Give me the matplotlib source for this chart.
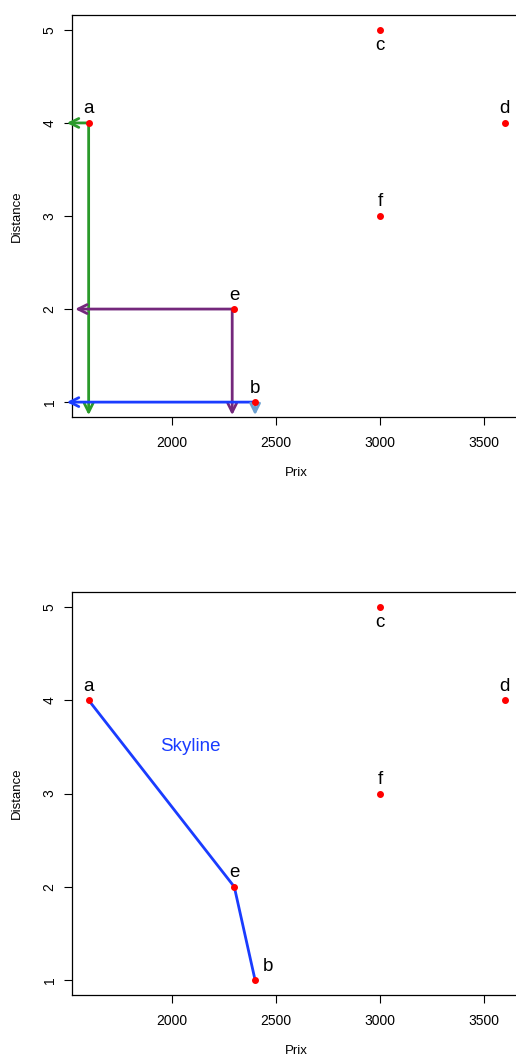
import matplotlib
matplotlib.use("Agg")
from matplotlib import pyplot as plt

plt.rcParams['font.family'] = ['Liberation Sans', 'DejaVu Sans']

# data
names = ['a', 'b', 'c', 'd', 'e', 'f']
prix = [1600, 2400, 3000, 3600, 2300, 3000]
distance = [4, 1, 5, 4, 2, 3]

# label placement: 'up' or 'down'
pos_top = ['up', 'up', 'down', 'up', 'up', 'up']

# skyline path
sky_x = [1600, 2300, 2400]
sky_y = [4, 2, 1]

# arrows of the top panel: (x0, y0, x1, y1, colour)
arrows = [
    (1600, 4, 1495, 4, '#2a9a2a'),
    (1600, 4, 1600, 0.86, '#2a9a2a'),
    (2300, 2, 1535, 2, '#74287c'),
    (2290, 2, 2290, 0.86, '#74287c'),
    (2400, 1, 1495, 1, '#1a3cff'),
    (2400, 1, 2400, 0.86, '#6a9fd0'),
]

W, H = 516, 1057
fig = plt.figure(figsize=(W / 100, H / 100), dpi=100)

def make_axes(top, bottom):
    left, right = 72, 521.4
    ax = fig.add_axes([left / W, 1 - bottom / H, (right - left) / W, (bottom - top) / H])
    ax.set_xlim(1520, 3680)
    ax.set_ylim(0.84, 5.16)
    ax.set_xticks([2000, 2500, 3000, 3500])
    ax.set_yticks([1, 2, 3, 4, 5])
    ax.tick_params(direction='out', length=6, width=0.8, labelsize=10)
    ax.tick_params(axis='x', pad=8)
    ax.tick_params(axis='y', pad=5)
    for lab in ax.get_yticklabels():
        lab.set_rotation(90)
        lab.set_va('center')
    for s in ax.spines.values():
        s.set_linewidth(0.9)
    ax.set_xlabel('Prix', fontsize=9.5, labelpad=12)
    ax.set_ylabel('Distance', fontsize=9.5, labelpad=14)
    return ax

def put_labels(ax, bdx):
    for n, x, y, p in zip(names, prix, distance, pos_top):
        dx = bdx if n == 'b' else 0
        if p == 'up':
            ax.annotate(n, (x, y), xytext=(dx, 4), textcoords='offset points',
                        ha='center', va='bottom', fontsize=13.5)
        else:
            ax.annotate(n, (x, y), xytext=(0, -5), textcoords='offset points',
                        ha='center', va='top', fontsize=13.5)

# top panel
ax1 = make_axes(15, 417)
for x0, y0, x1, y1, c in arrows:
    ax1.annotate('', xy=(x1, y1), xytext=(x0, y0),
                 arrowprops=dict(arrowstyle='->', color=c, lw=2,
                                 shrinkA=0, shrinkB=0, mutation_scale=16),
                 annotation_clip=False)
ax1.scatter(prix, distance, s=16, color='#ff0000', zorder=5, clip_on=False)
put_labels(ax1, 0)

# bottom panel
ax2 = make_axes(592, 995)
ax2.plot(sky_x, sky_y, color='#1a3cff', lw=2, zorder=4)
ax2.scatter(prix, distance, s=16, color='#ff0000', zorder=5, clip_on=False)
put_labels(ax2, 9)
ax2.text(2087, 3.5, 'Skyline', color='#1a3cff', fontsize=13.5, ha='center', va='center')

fig.savefig('out.png', dpi=100)
